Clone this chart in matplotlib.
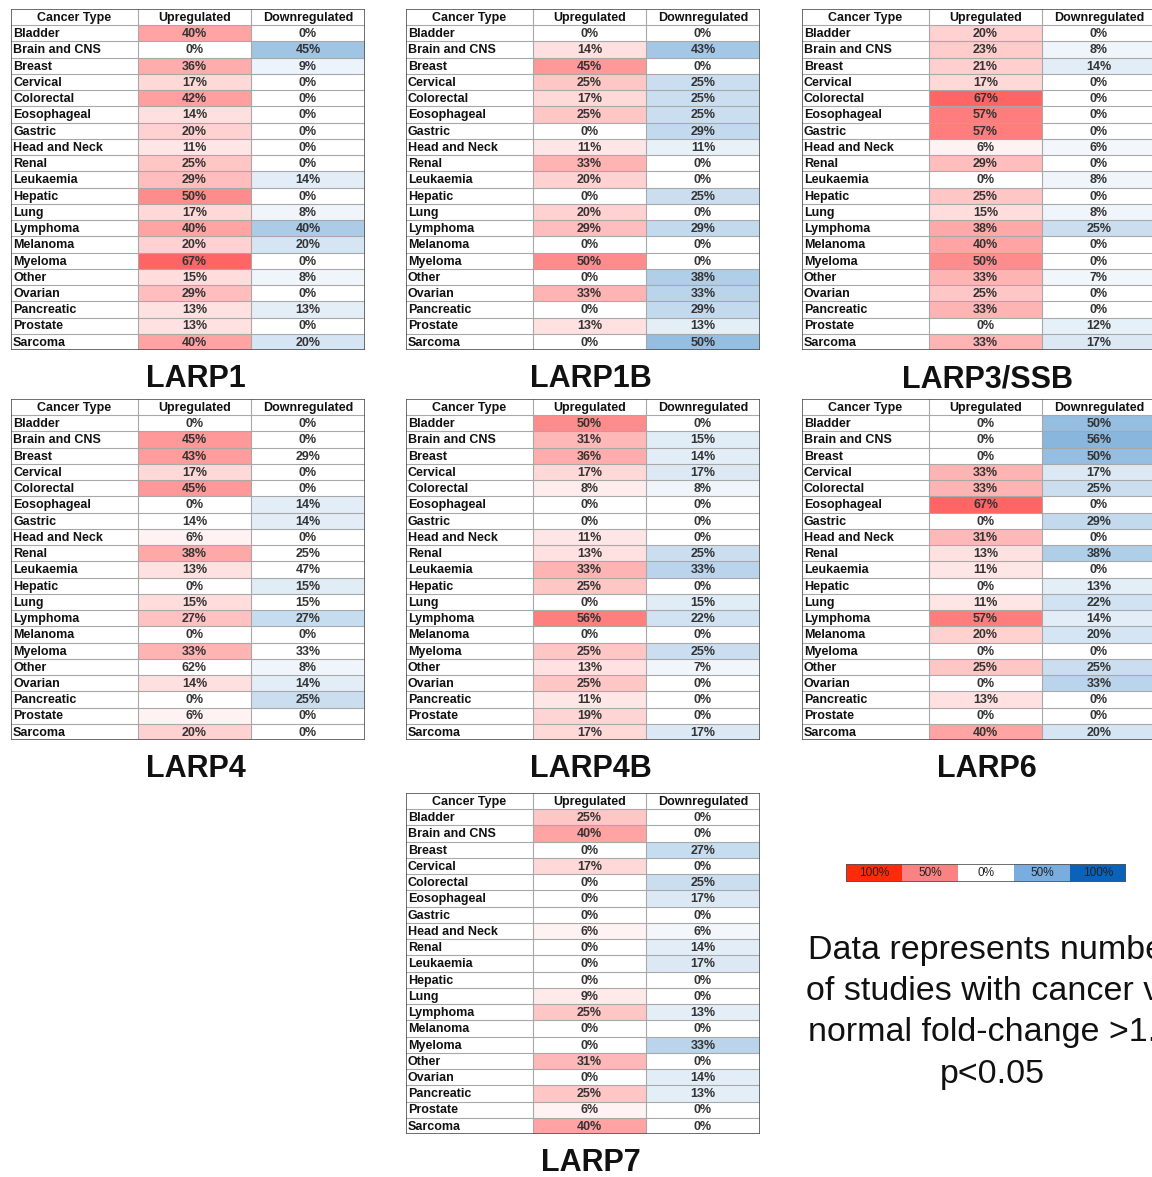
import matplotlib.pyplot as plt
import numpy as np
from matplotlib.colors import LinearSegmentedColormap, Normalize
from matplotlib.patches import Rectangle

plt.rcParams['font.family'] = ['Liberation Sans', 'DejaVu Sans']

cancer_types = ["Bladder", "Brain and CNS", "Breast", "Cervical", "Colorectal",
                "Eosophageal", "Gastric", "Head and Neck", "Renal", "Leukaemia",
                "Hepatic", "Lung", "Lymphoma", "Melanoma", "Myeloma", "Other",
                "Ovarian", "Pancreatic", "Prostate", "Sarcoma"]
headers = ["Cancer Type", "Upregulated", "Downregulated"]

larp1_up = [40, 0, 36, 17, 42, 14, 20, 11, 25, 29, 50, 17, 40, 20, 67, 15, 29, 13, 13, 40]
larp1_down = [0, 45, 9, 0, 0, 0, 0, 0, 0, 14, 0, 8, 40, 20, 0, 8, 0, 13, 0, 20]
larp1b_up = [0, 14, 45, 25, 17, 25, 0, 11, 33, 20, 0, 20, 29, 0, 50, 0, 33, 0, 13, 0]
larp1b_down = [0, 43, 0, 25, 25, 25, 29, 11, 0, 0, 25, 0, 29, 0, 0, 38, 33, 29, 13, 50]
larp3_up = [20, 23, 21, 17, 67, 57, 57, 6, 29, 0, 25, 15, 38, 40, 50, 33, 25, 33, 0, 33]
larp3_down = [0, 8, 14, 0, 0, 0, 0, 6, 0, 8, 0, 8, 25, 0, 0, 7, 0, 0, 12, 17]
larp4_up = [0, 45, 43, 17, 45, 0, 14, 6, 38, 13, 0, 15, 27, 0, 33, 62, 14, 0, 6, 20]
larp4_down = [0, 0, 29, 0, 0, 14, 14, 0, 25, 47, 15, 15, 27, 0, 33, 8, 14, 25, 0, 0]
larp4b_up = [50, 31, 36, 17, 8, 0, 0, 11, 13, 33, 25, 0, 56, 0, 25, 13, 25, 11, 19, 17]
larp4b_down = [0, 15, 14, 17, 8, 0, 0, 0, 25, 33, 0, 15, 22, 0, 25, 7, 0, 0, 0, 17]
larp6_up = [0, 0, 0, 33, 33, 67, 0, 31, 13, 11, 0, 11, 57, 20, 0, 25, 0, 13, 0, 40]
larp6_down = [50, 56, 50, 17, 25, 0, 29, 0, 38, 0, 13, 22, 14, 20, 0, 25, 33, 0, 0, 20]
larp7_up = [25, 40, 0, 17, 0, 0, 0, 6, 0, 0, 0, 9, 25, 0, 0, 31, 0, 25, 6, 40]
larp7_down = [0, 0, 27, 0, 25, 17, 0, 6, 14, 17, 0, 0, 13, 0, 33, 0, 14, 13, 0, 0]

# cells left without shading in the LARP4 table (cancer type, column)
larp4_unshaded = [("Gastric", 1), ("Other", 1), ("Breast", 2), ("Renal", 2),
                  ("Leukaemia", 2), ("Lung", 2), ("Myeloma", 2)]

legend_labels = ["100%", "50%", "0%", "50%", "100%"]
legend_colors = ["#ff2a0a", "#f98282", "#ffffff", "#79acdf", "#0a63b9"]

note_lines = ["Data represents number", "of studies with cancer vs",
              "normal fold-change >1.5", "p<0.05"]

up_cmap = LinearSegmentedColormap.from_list("up", ["#ffffff", "#ff1a1a"])
down_cmap = LinearSegmentedColormap.from_list("down", ["#ffffff", "#2d7dc3"])
norm = Normalize(0, 100)

W, H = 1152, 1177
fig = plt.figure(figsize=(W / 100, H / 100), dpi=100)

col_edges = [0, 127, 240, 354]
n_rows = len(cancer_types) + 1
fs = 9


def draw_table(left, top, name, up, down, unshaded=()):
    width, height = col_edges[-1], 341
    ax = fig.add_axes([left / W, 1 - (top + height) / H, width / W, height / H])
    ax.set_xlim(0, width)
    ax.set_ylim(n_rows, 0)
    ax.axis('off')

    for c, h in enumerate(headers):
        ax.text((col_edges[c] + col_edges[c + 1]) / 2, 0.55, h, ha='center', va='center',
                fontsize=fs, fontweight='bold', color='#111111')

    for r, ct in enumerate(cancer_types):
        y = r + 1
        ax.text(2, y + 0.55, ct, ha='left', va='center', fontsize=fs,
                fontweight='bold', color='#111111')
        for c, vals, cmap in ((1, up, up_cmap), (2, down, down_cmap)):
            v = vals[r]
            fc = cmap(norm(v)) if (ct, c) not in unshaded else 'white'
            ax.add_patch(Rectangle((col_edges[c], y), col_edges[c + 1] - col_edges[c], 1,
                                   facecolor=fc, edgecolor='none', zorder=1))
            ax.text((col_edges[c] + col_edges[c + 1]) / 2, y + 0.55, f"{v}%",
                    ha='center', va='center', fontsize=fs, fontweight='bold',
                    color='#333333', zorder=3)

    for y in range(1, n_rows):
        ax.plot([0, width], [y, y], color='#a8a8a8', lw=0.8, zorder=2)
    for x in col_edges[1:-1]:
        ax.plot([x, x], [0, n_rows], color='#a8a8a8', lw=0.8, zorder=2)
    ax.add_patch(Rectangle((0, 0), width, n_rows, facecolor='none',
                           edgecolor='#555555', lw=1.2, zorder=4))

    ax.text(width / 2 + 8, n_rows + 1.8, name, ha='center', va='center',
            fontsize=22, fontweight='bold', color='#111111')


draw_table(11, 9, "LARP1", larp1_up, larp1_down)
draw_table(406, 9, "LARP1B", larp1b_up, larp1b_down)
draw_table(802, 9, "LARP3/SSB", larp3_up, larp3_down)
draw_table(11, 399, "LARP4", larp4_up, larp4_down, larp4_unshaded)
draw_table(406, 399, "LARP4B", larp4b_up, larp4b_down)
draw_table(802, 399, "LARP6", larp6_up, larp6_down)
draw_table(406, 793, "LARP7", larp7_up, larp7_down)

# colour key
lax = fig.add_axes([846 / W, 1 - 882 / H, 280 / W, 18 / H])
lax.set_xlim(0, len(legend_labels))
lax.set_ylim(0, 1)
lax.axis('off')
for i, (lab, col) in enumerate(zip(legend_labels, legend_colors)):
    lax.add_patch(Rectangle((i, 0), 1, 1, facecolor=col, edgecolor='none'))
    lax.text(i + 0.5, 0.48, lab, ha='center', va='center', fontsize=8.5,
             color='#222222')
lax.add_patch(Rectangle((0, 0), len(legend_labels), 1, facecolor='none',
                        edgecolor='#555555', lw=1.2))

for i, line in enumerate(note_lines):
    fig.text(992 / W, 1 - (950 + 41.5 * i) / H, line, ha='center', va='center',
             fontsize=24.5, color='#111111')

plt.savefig('out.png', dpi=100)
